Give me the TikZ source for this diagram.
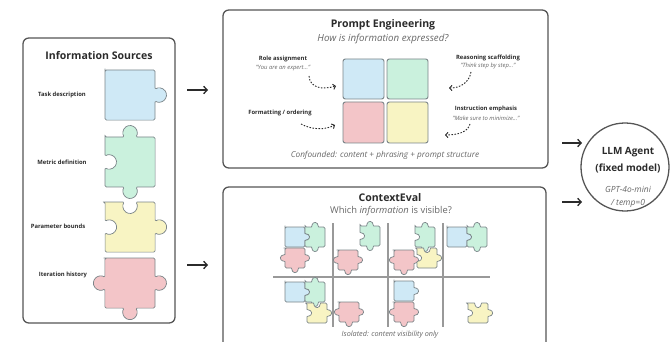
\documentclass[tikz,border=0pt]{standalone}
\usepackage{fontspec}
\setmainfont{Open Sans}
\usetikzlibrary{arrows.meta,fit}

\definecolor{ink}{HTML}{2B2B2B}
\definecolor{frame}{HTML}{555555}
\definecolor{soft}{HTML}{666666}
\definecolor{rim}{HTML}{7A8488}
\definecolor{pcblue}{HTML}{CFE9F6}
\definecolor{pcgreen}{HTML}{CAF1DD}
\definecolor{pcyellow}{HTML}{F8F4C3}
\definecolor{pcred}{HTML}{F3C5C8}

% jigsaw edges: flat, knob (outwards), socket (inwards); #1 = direction
\tikzset{
  ef/.style={insert path={-- ++(#1:\js)}},
  ek/.style={insert path={-- ++(#1:\jl)
      arc[start angle=#1+180-\jb, end angle=#1+360+\jb, radius=\jr] -- ++(#1:\jl)}},
  es/.style={insert path={-- ++(#1:\jl)
      arc[start angle=#1+180+\jb, end angle=#1-\jb, radius=\jr] -- ++(#1:\jl)}},
  piece/.style={draw=rim, line width=0.6pt, rounded corners=1.2pt},
  panel/.style={draw=frame, line width=1.1pt, rounded corners=5pt, inner sep=0pt},
  title/.style={font=\bfseries\fontsize{9}{11}\selectfont, text=ink},
  sub/.style={font=\itshape\fontsize{8.3}{10}\selectfont, text=soft},
  lbl/.style={font=\bfseries\fontsize{5}{6}\selectfont, text=ink},
  quote/.style={font=\itshape\fontsize{5}{6}\selectfont, text=soft},
  note/.style={font=\itshape\fontsize{7}{8}\selectfont, text=soft},
  arr/.style={-{Straight Barb[length=3pt,width=6.5pt]}, line width=1.1pt, draw=ink},
  hint/.style={-{Straight Barb[length=2pt,width=4.5pt]}, line width=0.8pt,
      draw=ink, dash pattern=on 1.3pt off 1.3pt},
  grid/.style={draw=gray!80, line width=0.9pt},
}

% one piece: centre x, centre y, side, fill, edges (top, right, bottom, left)
\newcommand{\jigsaw}[5]{%
  \pgfmathsetmacro\js{#3}%
  \pgfmathsetmacro\jl{0.39*#3}%
  \pgfmathsetmacro\jr{0.142*#3}%
  \pgfmathsetmacro\jb{atan(0.087/0.11)}%
  \filldraw[piece, fill=#4] (#1-0.5*#3, #2-0.5*#3) #5 -- cycle;
}
\newcommand{\bluepc}[3]{\jigsaw{#1}{#2}{#3}{pcblue}{[ef=0][ek=90][ef=180][ef=270]}}
\newcommand{\greenpc}[3]{\jigsaw{#1}{#2}{#3}{pcgreen}{[ek=0][ef=90][ek=180][es=270]}}
\newcommand{\yellowpc}[3]{\jigsaw{#1}{#2}{#3}{pcyellow}{[es=0][ek=90][ef=180][es=270]}}
\newcommand{\redpc}[3]{\jigsaw{#1}{#2}{#3}{pcred}{[ef=0][ek=90][ek=180][ek=270]}}

\begin{document}
\begin{tikzpicture}[x=0.03cm, y=-0.03cm]
  \useasboundingbox (0,0) rectangle (670,342);
  \clip (0,0) rectangle (670,342);

  % ---- information sources
  \node[panel, fit={(23,38) (175,323)}] (sources) {};
  \node[title] (srctitle) at (99,56) {Information Sources};

  \bluepc{130}{95}{50}
  \greenpc{130}{162}{50}
  \yellowpc{130}{227}{50}
  \redpc{130}{283}{50}

  \node[lbl] (task)   at (62,95)  {Task description};
  \node[lbl] (metric) at (62,162) {Metric definition};
  \node[lbl] (bounds) at (58,226) {Parameter bounds};
  \node[lbl] (hist)   at (63,275) {Iteration history};

  % ---- prompt engineering
  \node[panel, fit={(223,10) (548,168)}] (prompt) {};
  \node[title] (pttitle) at (383,25) {Prompt Engineering};
  \node[sub]   (ptsub)   at (383,39) {How is information expressed?};

  \filldraw[piece, line width=0.8pt, rounded corners=2pt, fill=pcblue]   (343,59)  rectangle (384,99);
  \filldraw[piece, line width=0.8pt, rounded corners=2pt, fill=pcgreen]  (387,59)  rectangle (428,99);
  \filldraw[piece, line width=0.8pt, rounded corners=2pt, fill=pcred]    (343,102) rectangle (384,143);
  \filldraw[piece, line width=0.8pt, rounded corners=2pt, fill=pcyellow] (387,102) rectangle (428,143);

  \node[lbl]   (role)   at (283,59)  {Role assignment};
  \node[quote] (roleq)  at (283,68)  {"You are an expert..."};
  \node[lbl]   (reason) at (488,58)  {Reasoning scaffolding};
  \node[quote] (reasq)  at (488,66)  {"Think step by step..."};
  \node[lbl]   (format) at (280,113) {Formatting / ordering};
  \node[lbl]   (emph)   at (486,109) {Instruction emphasis};
  \node[quote] (emphq)  at (486,118) {"Make sure to minimize..."};

  % dotted hints towards the grid
  \coordinate (h1s) at (309,76);  \coordinate (h1) at (336,86);
  \coordinate (h2s) at (471,72);  \coordinate (h2) at (449,88);
  \coordinate (h3s) at (301,124); \coordinate (h3) at (335,125);
  \coordinate (h4s) at (470,124); \coordinate (h4) at (445,135);
  \draw[hint] (h1s) .. controls (310,88) and (322,90) .. (h1);
  \draw[hint] (h2s) .. controls (469,83) and (460,88) .. (h2);
  \draw[hint] (h3s) .. controls (312,130) and (325,130) .. (h3);
  \draw[hint] (h4s) .. controls (468,132) and (458,135) .. (h4);

  \node[note] (confound) at (385,155) {Confounded: content + phrasing + prompt structure};

  % ---- context eval
  \node[panel, fit={(223,187) (546,360)}] (ctxeval) {};
  \node[title] (cetitle) at (390,198) {ContextEval};
  \node[sub, font=\fontsize{8}{10}\selectfont] (cesub) at (391,211)
    {Which \textit{information} is visible?};

  \foreach \x in {333,388,443}
    \draw[grid] (\x,223) -- (\x,327);
  \draw[grid] (273,277) -- (490,277);

  % top row
  \bluepc{295}{237}{20}  \greenpc{315}{237}{20}  \redpc{295}{258}{20}
  \greenpc{370}{236}{20} \redpc{348}{260}{20}
  \greenpc{425}{237}{20} \redpc{404}{260}{20}   \yellowpc{427}{258}{20}
  \bluepc{457}{237}{20}  \greenpc{477}{237}{20}
  % bottom row
  \bluepc{295}{292}{20}  \greenpc{315}{292}{20} \yellowpc{317}{313}{20}
  \redpc{349}{312}{20}
  \bluepc{404}{291}{20}  \redpc{404}{312}{20}
  \yellowpc{478}{313}{20}

  \node[note, font=\itshape\fontsize{6.2}{7}\selectfont] (isolated) at (390,335)
    {Isolated: content visibility only};

  % ---- agent
  \node[circle, draw=frame, line width=1.1pt, minimum size=2.64cm] (agent) at (625,167) {};
  \node[title, font=\bfseries\fontsize{8.5}{10}\selectfont] (agname) at (628,152) {LLM Agent};
  \node[title, font=\bfseries\fontsize{8.5}{10}\selectfont] (agfix)  at (628,168) {(fixed model)};
  \node[note, font=\itshape\fontsize{7.2}{8}\selectfont] (agmodel) at (628,189) {GPT-4o-mini};
  \node[note, font=\itshape\fontsize{7.2}{8}\selectfont] (agtemp)  at (628,203) {/ temp=0};

  % ---- flow arrows
  \coordinate (s1) at (187,90);  \coordinate (p1) at (208,90);
  \coordinate (s2) at (187,265); \coordinate (c2) at (208,265);
  \coordinate (p3) at (562,143); \coordinate (g3) at (582,143);
  \coordinate (c4) at (562,202); \coordinate (g4) at (582,202);
  \draw[arr] (s1) -- (p1);
  \draw[arr] (s2) -- (c2);
  \draw[arr] (p3) -- (g3);
  \draw[arr] (c4) -- (g4);
\end{tikzpicture}
\end{document}
